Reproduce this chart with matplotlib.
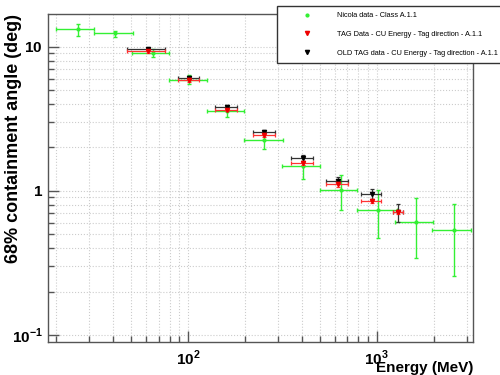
import numpy as np
import matplotlib
matplotlib.use('Agg')
import matplotlib.pyplot as plt
from matplotlib.lines import Line2D
from matplotlib.ticker import LogLocator, FixedLocator, FixedFormatter, NullFormatter

plt.rcParams['font.family'] = ['Liberation Sans', 'DejaVu Sans']
plt.rcParams['mathtext.fontset'] = 'custom'
plt.rcParams['mathtext.rm'] = 'Liberation Sans:bold'
plt.rcParams['mathtext.bf'] = 'Liberation Sans:bold'

# Nicola data - Class A.1.1
nic_e = [26.0, 40.9, 65.0, 101, 162, 254, 406, 647, 1020, 1615, 2569]
nic_elo = [20.0, 31.9, 50.7, 79.6, 126.6, 199, 316, 500, 789, 1250, 1973]
nic_ehi = [31.9, 50.9, 79.6, 126.6, 198.8, 317.6, 502, 789, 1285, 1976, 3148]
nic_a = [13.15, 12.4, 9.06, 5.87, 3.56, 2.24, 1.48, 1.01, 0.743, 0.613, 0.535]
nic_alo = [11.8, 11.6, 8.42, 5.47, 3.24, 1.94, 1.205, 0.739, 0.471, 0.342, 0.259]
nic_ahi = [14.3, 12.9, 9.56, 6.35, 3.89, 2.56, 1.62, 1.284, 1.016, 0.890, 0.809]

# TAG data (new and old), same energy bins
tag_e = [61.2, 101, 160.3, 253.7, 406, 621, 941, 1302]
tag_elo = [47.3, 88.7, 139, 222, 352, 537, 826, 1225]
tag_ehi = [75.2, 114.8, 182.4, 289, 461, 707, 1058, 1384]

new_a = [9.25, 5.87, 3.64, 2.44, 1.56, 1.11, 0.849, 0.71]
new_alo = [9.05, 5.72, 3.56, 2.36, 1.51, 1.07, 0.82, 0.69]
new_ahi = [9.45, 6.02, 3.72, 2.52, 1.61, 1.15, 0.88, 0.73]

old_a = [9.55, 6.1, 3.84, 2.55, 1.69, 1.18, 0.949, 0.716]
old_alo = [9.3, 5.95, 3.74, 2.43, 1.6, 1.12, 0.884, 0.613]
old_ahi = [9.8, 6.25, 3.94, 2.66, 1.78, 1.25, 1.037, 0.809]

labels = ['Nicola data - Class A.1.1',
          'TAG Data - CU Energy - Tag direction - A.1.1',
          'OLD TAG data - CU Energy - Tag direction - A.1.1']


def errs(v, lo, hi):
    v = np.array(v)
    return [v - np.array(lo), np.array(hi) - v]


fig = plt.figure(figsize=(5, 3.75), dpi=100)
ax = fig.add_axes([0.0966, 0.0893, 0.85, 0.8734])

green = '#33f033'
ax.errorbar(nic_e, nic_a, xerr=errs(nic_e, nic_elo, nic_ehi), yerr=errs(nic_a, nic_alo, nic_ahi),
            fmt='o', color=green, ms=2, lw=1, capsize=1.5, capthick=1, zorder=3)
ax.errorbar(tag_e, old_a, xerr=errs(tag_e, tag_elo, tag_ehi), yerr=errs(old_a, old_alo, old_ahi),
            fmt='v', color='#333333', mfc='black', mec='black', ms=3, lw=0.9, capsize=1.5, capthick=0.9, zorder=4)
ax.errorbar(tag_e, new_a, xerr=errs(tag_e, tag_elo, tag_ehi), yerr=errs(new_a, new_alo, new_ahi),
            fmt='v', color='#ff3333', mfc='#ee0000', mec='#ee0000', ms=3, lw=0.9, capsize=1.5, capthick=0.9, zorder=5)

ax.set_xscale('log')
ax.set_yscale('log')
ax.set_xlim(18.2, 3250)
ax.set_ylim(0.0905, 16.8)

ax.xaxis.set_major_locator(FixedLocator([100, 1000]))
ax.xaxis.set_major_formatter(FixedFormatter([r'$10^{2}$', r'$10^{3}$']))
ax.xaxis.set_minor_locator(LogLocator(base=10, subs=np.arange(2, 10), numticks=20))
ax.xaxis.set_minor_formatter(NullFormatter())
ax.yaxis.set_major_locator(FixedLocator([0.1, 1, 10]))
ax.yaxis.set_major_formatter(FixedFormatter([r'$10^{-1}$', r'$1$', r'$10$']))
ax.yaxis.set_minor_locator(LogLocator(base=10, subs=np.arange(2, 10), numticks=20))
ax.yaxis.set_minor_formatter(NullFormatter())

ax.tick_params(which='both', direction='in', color='#555555', width=1, labelsize=11)
ax.tick_params(which='major', length=8)
ax.tick_params(which='minor', length=4.5)
ax.tick_params(axis='x', pad=5)
ax.tick_params(axis='y', pad=4)

ax.grid(True, which='both', color='#cccccc', ls=':', lw=0.8)
for s in ax.spines.values():
    s.set_color('#555555')
    s.set_linewidth(1)

ax.set_xlabel('Energy (MeV)', fontsize=11, fontweight='bold', loc='right')
ax.xaxis.set_label_coords(1.0, -0.06)
ax.set_ylabel('68% containment angle (deg)', fontsize=13, fontweight='bold', loc='top')
ax.yaxis.set_label_coords(-0.061, 1.0)

handles = [Line2D([], [], ls='none', marker='o', color=green, ms=2),
           Line2D([], [], ls='none', marker='v', color='#ee0000', ms=3),
           Line2D([], [], ls='none', marker='v', color='black', ms=3)]
leg = fig.legend(handles, labels, loc='upper left', bbox_to_anchor=(0.5546, 0.985),
                 fontsize=5.3, frameon=True, fancybox=False, framealpha=1, edgecolor='#333333',
                 borderpad=0.9, labelspacing=1.55, handlelength=6.4, handletextpad=0.8,
                 numpoints=1, borderaxespad=0)
leg.get_frame().set_linewidth(1)

fig.savefig('out.png', dpi=100, facecolor='white')
